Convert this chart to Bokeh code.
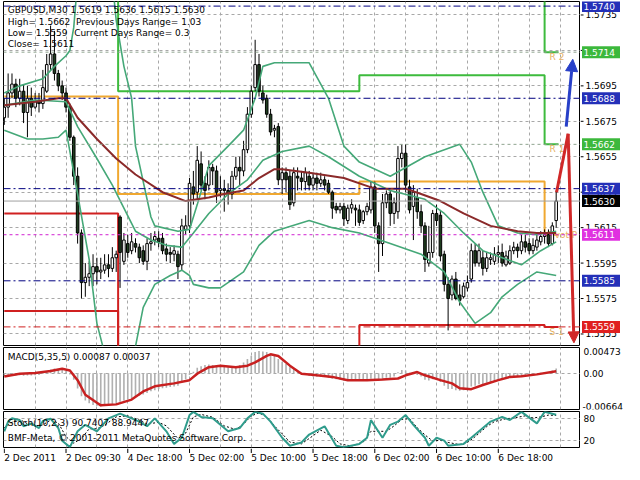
import numpy as np
from bokeh.plotting import figure
from bokeh.models import (Range1d, FixedTicker, Span, ColumnDataSource, Arrow, NormalHead)
from bokeh.layouts import column, row
from bokeh.embed import file_html
from bokeh.resources import INLINE
from bokeh.core.properties import value

# ---------------- data ----------------
bars = list(range(144))
open_ = [
1.5677,1.5683,1.5691,1.5696,1.5688,1.5692,1.5680,1.5688,1.5683,1.5686,
1.5685,1.5692,1.5707,1.5713,1.5702,1.5695,1.5691,1.5683,1.5666,1.5644,
1.5612,1.5584,1.5587,1.5589,1.5593,1.5590,1.5591,1.5594,1.5592,1.5598,
1.5621,1.5596,1.5606,1.5602,1.5606,1.5604,1.5602,1.5596,1.5606,1.5608,
1.5609,1.5609,1.5603,1.5601,1.5600,1.5600,1.5594,1.5614,1.5616,1.5638,
1.5635,1.5651,1.5640,1.5639,1.5649,1.5647,1.5636,1.5637,1.5636,1.5634,
1.5644,1.5649,1.5647,1.5659,1.5679,1.5694,1.5707,1.5691,1.5688,1.5679,
1.5670,1.5672,1.5642,1.5646,1.5644,1.5629,1.5644,1.5643,1.5641,1.5644,
1.5639,1.5643,1.5640,1.5642,1.5640,1.5635,1.5627,1.5625,1.5627,1.5619,
1.5626,1.5626,1.5625,1.5619,1.5624,1.5625,1.5638,1.5616,1.5606,1.5629,
1.5634,1.5623,1.5624,1.5654,1.5657,1.5638,1.5627,1.5632,1.5624,1.5616,
1.5595,1.5601,1.5623,1.5622,1.5600,1.5583,1.5577,1.5586,1.5577,1.5576,
1.5581,1.5586,1.5602,1.5595,1.5598,1.5592,1.5597,1.5596,1.5600,1.5601,
1.5594,1.5595,1.5602,1.5604,1.5602,1.5607,1.5606,1.5602,1.5604,1.5607,
1.5610,1.5611,1.5606,1.5619]
high = [
1.5688,1.5702,1.5702,1.5699,1.5699,1.5696,1.5695,1.5694,1.5691,1.5691,
1.5704,1.5713,1.5729,1.5726,1.5704,1.5698,1.5694,1.5685,1.5667,1.5649,
1.5614,1.5595,1.5596,1.5600,1.5598,1.5598,1.5600,1.5600,1.5604,1.5602,
1.5622,1.5612,1.5611,1.5612,1.5609,1.5606,1.5605,1.5609,1.5612,1.5613,
1.5613,1.5612,1.5606,1.5604,1.5605,1.5602,1.5620,1.5622,1.5643,1.5647,
1.5661,1.5658,1.5644,1.5653,1.5651,1.5650,1.5644,1.5642,1.5640,1.5647,
1.5655,1.5655,1.5664,1.5683,1.5695,1.5721,1.5713,1.5695,1.5690,1.5682,
1.5673,1.5674,1.5649,1.5649,1.5647,1.5649,1.5649,1.5647,1.5649,1.5647,
1.5646,1.5646,1.5646,1.5644,1.5642,1.5636,1.5629,1.5629,1.5629,1.5628,
1.5631,1.5628,1.5628,1.5625,1.5629,1.5641,1.5641,1.5618,1.5634,1.5636,
1.5636,1.5632,1.5661,1.5662,1.5662,1.5642,1.5639,1.5637,1.5628,1.5618,
1.5616,1.5625,1.5628,1.5625,1.5602,1.5587,1.5588,1.5590,1.5583,1.5584,
1.5588,1.5606,1.5606,1.5606,1.5602,1.5601,1.5601,1.5604,1.5605,1.5606,
1.5602,1.5605,1.5607,1.5606,1.5611,1.5611,1.5609,1.5609,1.5611,1.5613,
1.5614,1.5614,1.5618,1.5636]
low = [
1.5673,1.5677,1.5688,1.5683,1.5684,1.5674,1.5666,1.5678,1.5682,1.5680,
1.5682,1.5691,1.5704,1.5698,1.5692,1.5687,1.5680,1.5664,1.5639,1.5606,
1.5575,1.5576,1.5582,1.5582,1.5583,1.5586,1.5589,1.5587,1.5590,1.5590,
1.5581,1.5594,1.5598,1.5600,1.5601,1.5595,1.5594,1.5591,1.5602,1.5605,
1.5604,1.5600,1.5596,1.5595,1.5596,1.5586,1.5591,1.5611,1.5612,1.5628,
1.5631,1.5636,1.5631,1.5636,1.5639,1.5629,1.5632,1.5624,1.5628,1.5631,
1.5642,1.5639,1.5644,1.5657,1.5677,1.5692,1.5689,1.5685,1.5677,1.5667,
1.5666,1.5639,1.5634,1.5635,1.5625,1.5627,1.5636,1.5636,1.5636,1.5636,
1.5636,1.5636,1.5638,1.5636,1.5634,1.5620,1.5623,1.5623,1.5616,1.5617,
1.5623,1.5616,1.5616,1.5617,1.5622,1.5623,1.5612,1.5590,1.5599,1.5626,
1.5616,1.5617,1.5620,1.5649,1.5635,1.5623,1.5608,1.5620,1.5612,1.5590,
1.5593,1.5598,1.5616,1.5596,1.5579,1.5557,1.5574,1.5574,1.5571,1.5575,
1.5579,1.5584,1.5593,1.5593,1.5588,1.5590,1.5594,1.5594,1.5595,1.5593,
1.5593,1.5594,1.5600,1.5598,1.5600,1.5601,1.5600,1.5600,1.5602,1.5605,
1.5606,1.5604,1.5605,1.5615]
close = [
1.5683,1.5691,1.5696,1.5688,1.5692,1.5680,1.5688,1.5683,1.5686,1.5685,
1.5694,1.5707,1.5713,1.5702,1.5695,1.5691,1.5683,1.5666,1.5644,1.5612,
1.5584,1.5587,1.5589,1.5593,1.5590,1.5591,1.5594,1.5592,1.5598,1.5600,
1.5601,1.5608,1.5601,1.5607,1.5604,1.5598,1.5596,1.5606,1.5607,1.5610,
1.5607,1.5602,1.5600,1.5600,1.5602,1.5593,1.5616,1.5616,1.5640,1.5634,
1.5653,1.5639,1.5636,1.5649,1.5647,1.5635,1.5637,1.5636,1.5634,1.5644,
1.5649,1.5647,1.5659,1.5679,1.5692,1.5707,1.5692,1.5687,1.5679,1.5669,
1.5671,1.5642,1.5646,1.5642,1.5628,1.5646,1.5643,1.5641,1.5646,1.5639,
1.5643,1.5640,1.5642,1.5639,1.5635,1.5626,1.5625,1.5627,1.5620,1.5626,
1.5628,1.5625,1.5618,1.5624,1.5627,1.5638,1.5616,1.5606,1.5629,1.5634,
1.5623,1.5629,1.5654,1.5657,1.5639,1.5625,1.5635,1.5624,1.5616,1.5597,
1.5601,1.5623,1.5619,1.5599,1.5583,1.5575,1.5586,1.5575,1.5574,1.5582,
1.5584,1.5602,1.5595,1.5602,1.5592,1.5598,1.5598,1.5600,1.5601,1.5595,
1.5599,1.5602,1.5604,1.5602,1.5607,1.5604,1.5602,1.5605,1.5608,1.5610,
1.5611,1.5606,1.5616,1.5630]

ma_bars = [0,8,14,16,19,24,29,34,41,47,53,57,62,66,70,72,79,88,96,104,108,113,119,126,133,138,143]
ma_vals = [1.5684,1.5686,1.5688,1.5688,1.5677,1.5665,1.5654,1.5645,1.5635,1.5630,1.5632,1.5634,1.5636,
           1.5643,1.5648,1.5648,1.5646,1.5643,1.5637,1.5637,1.5634,1.5630,1.5623,1.5616,1.5613,1.5612,1.5612]

band_up_bars = [0,4,10,13,16,17,18,19,28,29,31,33,34,36,38,39,45,48,50,53,58,62,65,67,70,79,84,88,92,100,
                109,118,121,124,128,133,138,143]
band_up = [1.5691,1.5695,1.5699,1.5706,1.5712,1.5715,1.5728,1.5754,1.5754,1.5732,1.5706,1.5688,1.5661,1.5641,
           1.5621,1.5616,1.5613,1.5614,1.5628,1.5650,1.5661,1.5670,1.5688,1.5706,1.5708,1.5708,1.5688,1.5661,
           1.5652,1.5644,1.5655,1.5662,1.5652,1.5635,1.5616,1.5612,1.5611,1.5613]
band_mid_bars = [0,8,16,19,24,28,31,34,38,42,46,49,53,58,63,67,72,79,84,92,100,109,114,119,124,129,134,139,143]
band_mid = [1.5684,1.5687,1.5686,1.5672,1.5654,1.5639,1.5626,1.5613,1.5608,1.5605,1.5604,1.5612,1.5623,1.5634,
            1.5642,1.5653,1.5658,1.5661,1.5655,1.5644,1.5636,1.5631,1.5623,1.5612,1.5602,1.5598,1.5594,1.5602,1.5607]
band_low_bars = [0,6,10,14,16,19,22,24,26,33,34,36,39,43,46,48,49,53,56,62,66,70,79,85,92,100,108,114,118,122,
                 126,129,133,138,143]
band_low = [1.5670,1.5665,1.5665,1.5666,1.5670,1.5634,1.5597,1.5561,1.5544,1.5544,1.5548,1.5570,1.5583,1.5588,
            1.5591,1.5588,1.5583,1.5581,1.5581,1.5590,1.5605,1.5613,1.5619,1.5615,1.5612,1.5606,1.5600,1.5590,
            1.5573,1.5561,1.5567,1.5576,1.5583,1.5590,1.5588]

# daily pivot levels (day start bars, last entry = end of drawing)
day_edges = [0, 29.5, 92, 140, 143.6]
pivot_p = [1.5689, 1.5634, 1.5641, 1.5611]
pivot_r1 = [1.5760, 1.5692, 1.5701, 1.5662]
pivot_r2 = [1.5780, 1.5780, 1.5780, 1.5714]
pivot_s1 = [1.5623, 1.5520, 1.5560, 1.5559]
pivot_s2 = [1.5568, 1.5500, 1.5500, 1.5500]

level_blue = [1.5740, 1.5688, 1.5637, 1.5585]
level_magenta = 1.5611
level_red = 1.5559
level_green = [1.5714, 1.5662]
last_price = 1.5630
price_ticks = [1.5555, 1.5575, 1.5595, 1.5615, 1.5635, 1.5655, 1.5675, 1.5695, 1.5715, 1.5735]

proj_up_x = [145.6, 147.3]
proj_up_y = [1.5672, 1.5710]
proj_dn_x = [143.1, 146.1, 147.6]
proj_dn_y = [1.5635, 1.5668, 1.5550]

macd_hist = [
-0.00050,-0.00045,-0.00035,-0.00040,-0.00035,-0.00045,-0.00040,-0.00040,-0.00035,-0.00030,
-0.00010,0.00030,0.00070,0.00090,0.00085,0.00070,0.00040,-0.00020,-0.00120,-0.00280,
-0.00420,-0.00500,-0.00550,-0.00580,-0.00600,-0.00610,-0.00600,-0.00590,-0.00575,-0.00560,
-0.00520,-0.00500,-0.00480,-0.00455,-0.00430,-0.00410,-0.00390,-0.00360,-0.00330,-0.00310,
-0.00290,-0.00275,-0.00265,-0.00250,-0.00240,-0.00230,-0.00170,-0.00110,-0.00030,0.00030,
0.00100,0.00130,0.00150,0.00160,0.00150,0.00130,0.00125,0.00120,0.00110,0.00120,
0.00135,0.00150,0.00200,0.00260,0.00320,0.00390,0.00410,0.00400,0.00390,0.00360,
0.00330,0.00260,0.00210,0.00170,0.00110,0.00080,0.00040,0.00010,-0.00030,-0.00050,
-0.00060,-0.00065,-0.00060,-0.00070,-0.00080,-0.00100,-0.00110,-0.00120,-0.00135,-0.00130,
-0.00130,-0.00125,-0.00135,-0.00135,-0.00130,-0.00100,-0.00110,-0.00140,-0.00100,-0.00080,
-0.00080,-0.00060,0.00020,0.00060,0.00050,0.00010,0.00000,-0.00030,-0.00060,-0.00120,
-0.00130,-0.00110,-0.00120,-0.00160,-0.00230,-0.00290,-0.00290,-0.00310,-0.00320,-0.00310,
-0.00290,-0.00240,-0.00230,-0.00200,-0.00200,-0.00175,-0.00160,-0.00140,-0.00120,-0.00115,
-0.00100,-0.00085,-0.00070,-0.00060,-0.00040,-0.00035,-0.00030,-0.00020,-0.00005,0.00010,
0.00020,0.00020,0.00050,0.00087]
macd_sig_bars = [0,4,8,12,15,17,19,21,24,25,29,33,36,39,44,48,50,53,56,60,63,65,68,69,71,74,77,81,85,89,
                 94,98,102,104,107,109,113,116,118,121,124,128,131,134,138,143]
macd_sig = [-0.00060,-0.00007,0.00005,0.00041,0.00082,0.00052,-0.00126,-0.00393,-0.00540,-0.00588,
            -0.00570,-0.00482,-0.00332,-0.00238,-0.00185,-0.00126,-0.00007,0.00112,0.00140,0.00112,
            0.00140,0.00201,0.00318,0.00348,0.00318,0.00140,-0.00007,-0.00037,-0.00066,-0.00126,
            -0.00126,-0.00114,-0.00096,-0.00037,0.00023,-0.00037,-0.00126,-0.00185,-0.00274,-0.00291,
            -0.00215,-0.00126,-0.00066,-0.00055,-0.00020,0.00037]
macd_max, macd_min = 0.00473, -0.00664

stoch_bars = [0,1,2,4,5,7,9,10,12,14,15,17,19,21,24,27,30,33,35,37,39,42,44,46,48,49,51,54,58,61,
              63,65,67,69,72,74,77,79,83,86,88,92,94,95,98,100,102,104,106,109,110,112,114,115,119,121,
              124,126,129,131,134,138,140,143]
stoch_main = [45,72,81,76,59,67,54,74,80,54,19,1,45,63,45,81,94,81,72,59,81,45,10,27,90,99,85,81,45,54,
              81,99,94,72,27,5,14,36,59,5,1,10,27,76,27,63,72,90,63,27,5,27,19,5,10,27,54,72,85,76.5,
              99,67,99,90.74]
stoch_sig_bars = [0,2,4,6,8,10,12,14,16,18,20,22,24,26,29,32,35,37,40,42,45,47,49,51,54,57,60,62,64,66,
                  68,70,72,74,77,79,82,85,87,90,93,95,97,99,101,103,105,107,109,111,113,115,118,120,122,
                  125,127,130,132,135,137,139,141,143]
stoch_sig = [55,70,78,66,60,63,76,68,30,12,25,52,52,62,85,88,76,65,70,60,25,40,85,92,84,60,50,65,88,96,
             85,60,38,15,10,25,48,30,10,4,15,45,45,45,60,78,80,55,35,18,20,14,8,14,30,58,72,80,82,88,
             82,85,90,88.94]
stoch_levels = [20, 80]

time_tick_bars = [0, 16, 32, 48, 64, 80, 96, 112, 128]
time_tick_labels = ["2 Dec 2011", "2 Dec 09:30", "4 Dec 18:00", "5 Dec 02:00", "5 Dec 10:00",
                    "5 Dec 18:00", "6 Dec 02:00", "6 Dec 10:00", "6 Dec 18:00"]

# ---------------- styling ----------------
FONT = "DejaVu Sans"
FS = "9px"
W = 624
LB, RB = 3, 44
X_MAX = 149.3
xr = Range1d(-0.2, X_MAX)
GRID_COLOR = "#a8a8a8"
GRID_DASH = "3 3"
vgrid = list(range(8, 150, 8))
TEAL = "#45a878"
PIV_LBL = "#e6b060"


def panel(h, yr, hticks):
    p = figure(width=W - RB, height=h, x_range=xr, y_range=yr, output_backend="svg",
               toolbar_location=None, x_axis_location=None, y_axis_location=None,
               min_border_left=LB, min_border_right=0, min_border_top=1, min_border_bottom=1)
    p.outline_line_color = "black"
    p.outline_line_width = 1
    p.background_fill_color = "white"
    p.border_fill_color = "white"
    p.xgrid.ticker = FixedTicker(ticks=vgrid)
    p.ygrid.ticker = FixedTicker(ticks=hticks)
    for g in (p.xgrid, p.ygrid):
        g.grid_line_color = GRID_COLOR
        g.grid_line_dash = GRID_DASH
        g.grid_line_width = 1
    return p


def side(h, yr):
    # strip to the right of a panel, sharing its y range; x is in pixels from the panel edge
    s = figure(width=RB, height=h, x_range=Range1d(0, RB), y_range=yr, output_backend="svg",
               toolbar_location=None, x_axis_location=None, y_axis_location=None,
               min_border_left=0, min_border_right=0, min_border_top=1, min_border_bottom=1)
    s.outline_line_color = None
    s.xgrid.visible = False
    s.ygrid.visible = False
    s.background_fill_color = "white"
    s.border_fill_color = "white"
    return s


def txt(p, xs, ys, texts, color="black", baseline="middle", align="left"):
    p.text(x=xs, y=ys, text=texts, text_font=value(FONT), text_font_size=value(FS),
           text_color=color, text_baseline=baseline, text_align=align)


def box(s, ys, texts, bg):
    s.rect(x=[20.5] * len(ys), y=ys, width=38, height=12, height_units="screen",
           fill_color=bg, line_color=None)
    txt(s, [3] * len(ys), ys, texts, color="white")


# ---------------- main price panel ----------------
yr_main = Range1d(1.55485, 1.57426)
p = panel(346, yr_main, price_ticks)

for lv in level_blue:
    p.add_layout(Span(location=lv, dimension="width", line_color="#000080", line_dash="7 3 2 3", line_width=1))
for lv in level_green:
    p.add_layout(Span(location=lv, dimension="width", line_color="#8fa48f", line_dash="3 3", line_width=1))
p.add_layout(Span(location=level_magenta, dimension="width", line_color="#d020d0", line_dash="3 3", line_width=1))
p.add_layout(Span(location=level_red, dimension="width", line_color="#d02020", line_dash="7 3 2 3", line_width=1))
p.add_layout(Span(location=last_price, dimension="width", line_color="#a0a0a0", line_width=1))

for vals, col in ((pivot_r2, "#3dbb3d"), (pivot_r1, "#3dbb3d"), (pivot_p, "#f0a830"),
                  (pivot_s1, "#d02020"), (pivot_s2, "#d02020")):
    p.step(x=day_edges, y=vals + [vals[-1]], mode="after", line_color=col, line_width=2)

# pivot labels (drawn before the candles, as in the original)
txt(p, [141.3, 141.3], [pivot_r2[-1], pivot_r1[-1]], ["R 2", "R 1"], color=PIV_LBL, baseline="top")
txt(p, [141.3], [pivot_s1[-1]], ["S 1"], color=PIV_LBL, baseline="top")
txt(p, [140.6], [pivot_p[-1]], ["Pivot P"], color=PIV_LBL)

o = np.array(open_); c = np.array(close)
src = ColumnDataSource(dict(x=bars, h=high, l=low, top=np.maximum(o, c), bot=np.minimum(o, c),
                            fill=["white" if cc >= oo else "#1f3d1f" for oo, cc in zip(open_, close)]))
p.segment(x0="x", y0="h", x1="x", y1="l", source=src, line_color="black", line_width=1)
p.vbar(x="x", top="top", bottom="bot", width=0.66, fill_color="fill", line_color="black",
       line_width=1, source=src)

p.line(band_up_bars, band_up, line_color=TEAL, line_width=1.6)
p.line(band_mid_bars, band_mid, line_color=TEAL, line_width=1.6)
p.line(band_low_bars, band_low, line_color=TEAL, line_width=1.6)
p.line(ma_bars, ma_vals, line_color="#8b2a2a", line_width=2)

p.line(proj_dn_x[:2], proj_dn_y[:2], line_color="#d02828", line_width=3)
p.add_layout(Arrow(x_start=proj_dn_x[1], y_start=proj_dn_y[1], x_end=proj_dn_x[2], y_end=proj_dn_y[2],
                   line_color="#d02828", line_width=3,
                   end=NormalHead(size=11, fill_color="#d02828", line_color="#d02828")))
p.add_layout(Arrow(x_start=proj_up_x[0], y_start=proj_up_y[0], x_end=proj_up_x[1], y_end=proj_up_y[1],
                   line_color="#2840c8", line_width=3,
                   end=NormalHead(size=12, fill_color="#2840c8", line_color="#2840c8")))

txt(p, [0.9], [1.57376], ["GBPUSD,M30  1.5619 1.5636 1.5615 1.5630"])
txt(p, [0.9, 18.6], [1.57313, 1.57313], ["High= 1.5662", "Previous Days Range= 1.03"])
txt(p, [0.9, 18.1], [1.57248, 1.57248], ["Low= 1.5559", "Current Days Range= 0.3"])
txt(p, [0.9], [1.57186], ["Close= 1.5611"])

# price scale on the right
sp = side(346, yr_main)
sp.segment(x0=[0] * len(price_ticks), y0=price_ticks, x1=[3] * len(price_ticks), y1=price_ticks,
           line_color="black", line_width=1)
txt(sp, [5] * len(price_ticks), price_ticks, ["%.4f" % t for t in price_ticks])
box(sp, level_blue, ["%.4f" % v for v in level_blue], "#2430b8")
box(sp, level_green, ["%.4f" % v for v in level_green], "#3cb83c")
box(sp, [last_price], ["%.4f" % last_price], "black")
box(sp, [level_magenta], ["%.4f" % level_magenta], "#e030e0")
box(sp, [level_red], ["%.4f" % level_red], "#e02020")

# ---------------- MACD panel ----------------
yr_macd = Range1d(macd_min, macd_max)
pm = panel(64, yr_macd, [0])
pm.vbar(x=bars, top=macd_hist, bottom=0, width=0.42, fill_color="#b0b0b0", line_color=None)
pm.line(macd_sig_bars, macd_sig, line_color="#c82020", line_width=2.5)
txt(pm, [0.9], [0.00295], ["MACD(5,35,5) 0.00087 0.00037"])
sm = side(64, yr_macd)
txt(sm, [3], [macd_max], ["%.5f" % macd_max], baseline="top")
txt(sm, [3], [0.0], ["0.00"])
txt(sm, [2], [macd_min], ["%.5f" % macd_min], baseline="bottom")

# ---------------- Stochastic panel ----------------
yr_st = Range1d(0, 100)
ps = panel(38, yr_st, stoch_levels)
ps.line(stoch_sig_bars, stoch_sig, line_color="black", line_width=1, line_dash="2 2")
ps.line(stoch_bars, stoch_main, line_color="#2f9c8c", line_width=2)
txt(ps, [0.9], [69], ["Stoch(10,2,3) 90.7407 88.9447"])
txt(ps, [0.9], [27], ["BMF-Meta, \u00a9 2001-2011 MetaQuotes Software Corp."])
ss = side(38, yr_st)
txt(ss, [3, 3], stoch_levels, ["%d" % v for v in stoch_levels])

# ---------------- time axis strip ----------------
pt = figure(width=W, height=16, x_range=xr, y_range=Range1d(0, 1), output_backend="svg",
            toolbar_location=None, x_axis_location=None, y_axis_location=None,
            min_border_left=LB, min_border_right=RB, min_border_top=0, min_border_bottom=0)
pt.outline_line_color = None
pt.xgrid.visible = False
pt.ygrid.visible = False
pt.segment(x0=time_tick_bars, y0=[1.0] * len(time_tick_bars), x1=time_tick_bars,
           y1=[0.72] * len(time_tick_bars), line_color="black", line_width=1)
txt(pt, time_tick_bars, [0.40] * len(time_tick_bars), time_tick_labels)

layout = column(row(p, sp, spacing=0), row(pm, sm, spacing=0), row(ps, ss, spacing=0), pt, spacing=0)
open("out.html", "w").write(file_html(layout, INLINE))
